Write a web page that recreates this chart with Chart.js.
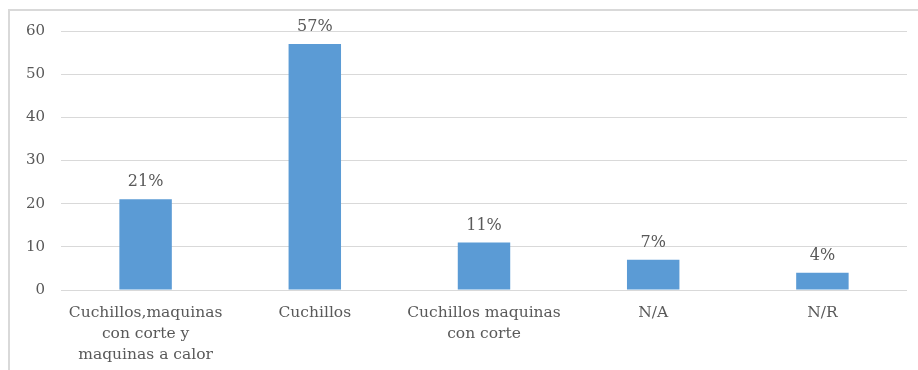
<!DOCTYPE html>
<html>
<head>
<meta charset="utf-8">
<script src="https://cdn.jsdelivr.net/npm/chart.js@4"></script>
<style>
    html, body { margin: 0; padding: 0; background: #fff; }
    #wrap { position: relative; width: 918px; height: 370px; overflow: hidden; }
    #frame { position: absolute; left: 8px; top: 9px; right: -2px; bottom: -2px;
             border-top: 2px solid #d9d9d9; border-left: 2px solid #d9d9d9; }
    #ChartElem { position: absolute; left: 0; top: 0; }
</style>
</head>
<body>
<div id="wrap">
    <div id="frame"></div>
    <canvas id="ChartElem" width="918" height="370"></canvas>
</div>
<script>
var categories = [
    ["Cuchillos,maquinas", "con corte y", "maquinas a calor"],
    "Cuchillos",
    ["Cuchillos maquinas", "con corte"],
    "N/A",
    "N/R"
];
var percentValues = [21, 57, 11, 7, 4];
var yTicks = [0, 10, 20, 30, 40, 50, 60];

var fontFamily = "'DejaVu Serif', 'Liberation Serif', serif";
var textColor = "#595959";

// writes the percentage above each bar, using the bar's own position
var barLabels = {
    id: "barLabels",
    afterDatasetsDraw: function (chart) {
        var ctx = chart.ctx;
        var meta = chart.getDatasetMeta(0);
        ctx.save();
        ctx.font = "16px " + fontFamily;
        ctx.fillStyle = textColor;
        ctx.textAlign = "center";
        ctx.textBaseline = "alphabetic";
        for (let i = 0; i < meta.data.length; i++) {
            var bar = meta.data[i];
            ctx.fillText(percentValues[i] + "%", bar.x, bar.y - 13);
        }
        ctx.restore();
    }
};

var chartContext = document.getElementById("ChartElem").getContext("2d");
var chart = new Chart(chartContext, {
    type: "bar",
    data: {
        labels: categories,
        datasets: [
            {
                data: percentValues,
                backgroundColor: "#5b9bd5",
                borderWidth: 0,
                categoryPercentage: 1,
                barPercentage: 0.31
            }
        ]
    },
    options: {
        responsive: false,
        animation: false,
        layout: { padding: { left: 0, top: 31, right: 11, bottom: 0 } },
        plugins: {
            legend: { display: false },
            tooltip: { enabled: false }
        },
        scales: {
            x: {
                grid: { display: false, drawTicks: false },
                border: { display: false },
                ticks: {
                    color: textColor,
                    font: { family: fontFamily, size: 15.5, lineHeight: 1.36 },
                    padding: 12,
                    maxRotation: 0,
                    autoSkip: false
                },
                afterFit: function (scale) { scale.height = 80; }
            },
            y: {
                min: 0,
                max: yTicks[yTicks.length - 1],
                afterBuildTicks: function (scale) {
                    scale.ticks = yTicks.map(function (v) { return { value: v }; });
                },
                grid: { color: "#d9d9d9", lineWidth: 1, drawTicks: false },
                border: { display: false },
                ticks: {
                    color: textColor,
                    font: { family: fontFamily, size: 15 },
                    padding: 16
                },
                afterFit: function (scale) { scale.width = 61; }
            }
        }
    },
    plugins: [barLabels]
});
</script>
</body>
</html>
